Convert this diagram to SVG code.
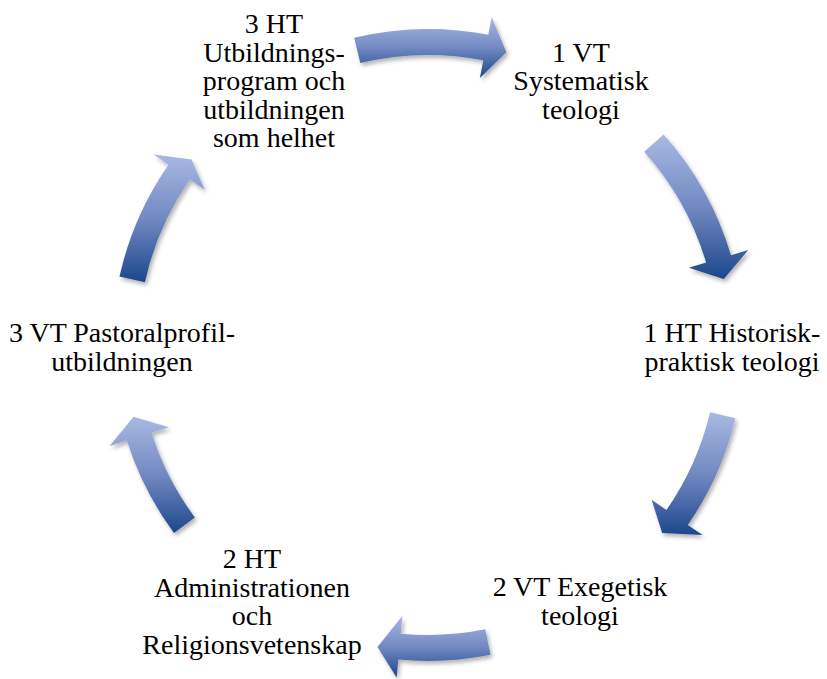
<svg xmlns="http://www.w3.org/2000/svg" width="827" height="679" viewBox="0 0 827 679">
  <defs>
    <linearGradient id="arrowFill" x1="0" y1="0" x2="0" y2="1">
      <stop offset="0" stop-color="#A8B9E2"/>
      <stop offset="0.5" stop-color="#7289C2"/>
      <stop offset="1" stop-color="#1D478B"/>
    </linearGradient>
    <filter id="shadow" x="-20%" y="-20%" width="140%" height="140%">
      <feDropShadow dx="2" dy="3" stdDeviation="2" flood-color="#000" flood-opacity="0.3"/>
    </filter>
  </defs>
  <style>
    .lbl { font-family: "Liberation Serif", "Times New Roman", serif; font-size: 28px; fill: #000; text-anchor: middle; }
    .arrow { fill: url(#arrowFill); filter: url(#shadow); }
  </style>
  <rect width="827" height="679" fill="#fff"/>

  <g id="connectors">
    <path class="arrow" d="M354.2,37.7 A316,316 0 0 1 488.3,34.8 L491.7,17.1 L506.4,52.3 L479.9,78.0 L483.3,60.3 A290,290 0 0 0 360.3,63.0 Z"/>
    <path class="arrow" d="M663.6,134.4 A316,316 0 0 1 731.0,255.3 L748.3,250.1 L723.7,278.9 L688.8,267.8 L706.1,262.6 A290,290 0 0 0 644.2,151.7 Z"/>
    <path class="arrow" d="M735.4,418.2 A316,316 0 0 1 687.8,524.9 L702.6,535.1 L662.2,533.0 L651.6,499.8 L666.4,510.1 A290,290 0 0 0 710.1,412.2 Z"/>
    <path class="arrow" d="M490.5,654.8 A316,316 0 0 1 398.3,659.6 L396.6,677.5 L377.5,647.0 L402.4,615.8 L400.7,633.7 A290,290 0 0 0 485.3,629.3 Z"/>
    <path class="arrow" d="M174.0,533.0 A316,316 0 0 1 126.8,440.6 L109.6,446.0 L133.6,416.8 L168.7,427.2 L151.6,432.7 A290,290 0 0 0 194.9,517.5 Z"/>
    <path class="arrow" d="M119.5,276.6 A316,316 0 0 1 168.5,164.7 L153.7,154.4 L191.5,159.5 L204.7,189.8 L189.9,179.5 A290,290 0 0 0 144.9,282.2 Z"/>
  </g>

  <g id="node-3ht">
    <text class="lbl" x="274" y="33">3 HT</text>
    <text class="lbl" x="274" y="61.5">Utbildnings-</text>
    <text class="lbl" x="274" y="90">program och</text>
    <text class="lbl" x="274" y="118.5">utbildningen</text>
    <text class="lbl" x="274" y="147">som helhet</text>
  </g>
  <g id="node-1vt">
    <text class="lbl" x="581" y="61.5">1 VT</text>
    <text class="lbl" x="581" y="90">Systematisk</text>
    <text class="lbl" x="581" y="118.5">teologi</text>
  </g>
  <g id="node-1ht">
    <text class="lbl" x="732" y="342">1 HT Historisk-</text>
    <text class="lbl" x="732" y="370.5">praktisk teologi</text>
  </g>
  <g id="node-2vt">
    <text class="lbl" x="580" y="596">2 VT Exegetisk</text>
    <text class="lbl" x="580" y="624.5">teologi</text>
  </g>
  <g id="node-2ht">
    <text class="lbl" x="252" y="568">2 HT</text>
    <text class="lbl" x="252" y="596.5">Administrationen</text>
    <text class="lbl" x="252" y="625">och</text>
    <text class="lbl" x="252" y="653.5">Religionsvetenskap</text>
  </g>
  <g id="node-3vt">
    <text class="lbl" x="122" y="342">3 VT Pastoralprofil-</text>
    <text class="lbl" x="122" y="370.5">utbildningen</text>
  </g>
</svg>
